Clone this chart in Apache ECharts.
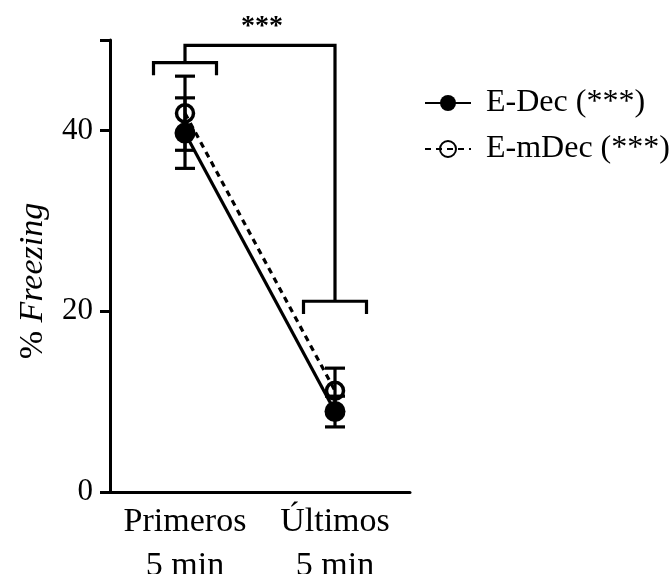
<!DOCTYPE html>
<html>
<head>
<meta charset="utf-8">
<script src="https://cdn.jsdelivr.net/npm/echarts@6/dist/echarts.min.js"></script>
<style>html,body{margin:0;padding:0;background:#fff}#c{width:672px;height:574px}</style>
</head>
<body>
<div id="c"></div>
<script>
// ---- data ----
const categories = ['Primeros\n5 min', 'Últimos\n5 min'];
const seriesNames = ['E-Dec (***)', 'E-mDec (***)'];
const eDecMean = [39.7, 8.9];
const eDecErr = [3.9, 1.7];
const eMDecMean = [41.9, 11.2];
const eMDecErr = [4.1, 2.5];
const yTicks = [0, 20, 40];
// significance brackets (value units)
const groupBracketTop = [47.5, 21.1];
const groupBracketDrop = 1.4;
const sigBarY = 49.4;
const sigLabel = '***';
const sigLabelY = 51.5;

const FONT = '"Liberation Serif", "Times New Roman", serif';
const chart = echarts.init(document.getElementById('c'));

function errRender(params, api) {
  const i = api.value(0), m = api.value(1), e = api.value(2);
  const top = api.coord([i, m + e]);
  const bot = api.coord([i, m - e]);
  const hw = 10;
  const st = {stroke: '#000', lineWidth: 3.2, fill: 'none'};
  return {type: 'group', children: [
    {type: 'line', shape: {x1: top[0], y1: top[1], x2: bot[0], y2: bot[1]}, style: st},
    {type: 'line', shape: {x1: top[0]-hw, y1: top[1], x2: top[0]+hw, y2: top[1]}, style: st},
    {type: 'line', shape: {x1: bot[0]-hw, y1: bot[1], x2: bot[0]+hw, y2: bot[1]}, style: st}
  ]};
}

function bracketRender(params, api) {
  if (params.dataIndex !== 0) return null;
  const band = api.size([1, 0])[0];
  const hw = band * 0.21;
  const st = {stroke: '#000', lineWidth: 3.2, fill: 'none'};
  const children = [];
  const tops = [];
  for (let i = 0; i < groupBracketTop.length; i++) {
    const c = api.coord([i, groupBracketTop[i]]);
    const d = api.coord([i, groupBracketTop[i] - groupBracketDrop]);
    tops.push(c);
    children.push({type: 'polyline', shape: {points: [[c[0]-hw, d[1]], [c[0]-hw, c[1]], [c[0]+hw, c[1]], [c[0]+hw, d[1]]]}, style: st});
  }
  const s0 = api.coord([0, sigBarY]);
  const s1 = api.coord([1, sigBarY]);
  children.push({type: 'polyline', shape: {points: [[tops[0][0], tops[0][1]], [s0[0], s0[1]], [s1[0], s1[1]], [tops[1][0], tops[1][1]]]}, style: st});
  const lab = api.coord([0.5, sigLabelY]);
  children.push({type: 'text', x: (s0[0]+s1[0])/2 + 2, y: lab[1], style: {text: sigLabel, font: 'bold 28px ' + FONT, fill: '#000', align: 'center', verticalAlign: 'middle'}});
  return {type: 'group', children};
}

chart.setOption({
  animation: false,
  backgroundColor: '#fff',
  grid: {left: 110, right: 262, top: 40, bottom: 82, containLabel: false, outerBoundsMode: 'none'},
  legend: {
    orient: 'vertical', left: 419, top: 82, itemWidth: 46, itemHeight: 20, itemGap: 14,
    textStyle: {fontFamily: FONT, fontSize: 32, color: '#000', padding: [0, 0, 0, 10]},
    data: seriesNames
  },
  xAxis: {
    type: 'category', data: categories, boundaryGap: true,
    axisLine: {lineStyle: {color: '#000', width: 3}},
    axisTick: {alignWithLabel: true, length: 10, lineStyle: {width: 3, color: '#000'}},
    axisLabel: {fontFamily: FONT, fontSize: 34, color: '#000', lineHeight: 44, margin: 8, interval: 0}
  },
  yAxis: {
    type: 'value', min: 0, max: 50, interval: 20,
    name: '{a|% }{b|Freezing}', nameLocation: 'middle', nameGap: 60, nameRotate: 90,
    nameTextStyle: {padding: [0, 30, 0, 0], rich: {
      a: {fontFamily: FONT, fontSize: 34, color: '#000'},
      b: {fontFamily: FONT, fontSize: 34, fontStyle: 'italic', color: '#000'}
    }},
    splitLine: {show: false},
    axisLine: {show: true, lineStyle: {color: '#000', width: 3}},
    axisTick: {show: true, length: 10, lineStyle: {width: 3, color: '#000'}},
    axisLabel: {fontFamily: FONT, fontSize: 31, color: '#000', margin: 17,
      formatter: v => (yTicks.indexOf(v) >= 0 ? String(v) : '')}
  },
  series: [
    {
      name: seriesNames[0], type: 'line', data: eDecMean, z: 3,
      symbol: 'circle', symbolSize: 21,
      lineStyle: {color: '#000', width: 3.2, type: 'solid'},
      itemStyle: {color: '#000', borderColor: '#000', borderWidth: 0}
    },
    {
      name: seriesNames[1], type: 'line', data: eMDecMean, z: 4,
      symbol: 'circle', symbolSize: 17,
      lineStyle: {color: '#000', width: 3.2, type: [6, 5]},
      itemStyle: {color: 'rgba(255,255,255,0)', borderColor: '#000', borderWidth: 3.5}
    },
    {
      type: 'custom', renderItem: errRender, z: 2, silent: true,
      data: eDecMean.map((m, i) => [i, m, eDecErr[i]])
    },
    {
      type: 'custom', renderItem: errRender, z: 2, silent: true,
      data: eMDecMean.map((m, i) => [i, m, eMDecErr[i]])
    },
    {
      type: 'custom', renderItem: bracketRender, z: 2, silent: true, clip: false,
      data: [[0, 0]]
    }
  ]
});
</script>
</body>
</html>
